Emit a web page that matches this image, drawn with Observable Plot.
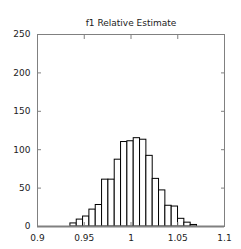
<!DOCTYPE html>
<html>
<head>
<meta charset="utf-8">
<script src="https://cdn.jsdelivr.net/npm/d3@7"></script>
<script src="https://cdn.jsdelivr.net/npm/@observablehq/plot@0.6"></script>
<style>
  html, body { margin: 0; padding: 0; background: #fff; }
  svg { display: block; }
</style>
</head>
<body>
<div id="chart"></div>
<script>
const title = "f1 Relative Estimate";
const binStart = 0.9352;
const binWidth = 0.00677;
const counts = [4, 9, 13, 22, 28, 61, 61, 87, 110, 111, 115, 113, 92, 62, 47, 27, 26, 10, 5, 2];
const xTicks = [0.9, 0.95, 1, 1.05, 1.1];
const xTickLabels = ["0.9", "0.95", "1", "1.05", "1.1"];
const yTicks = [0, 50, 100, 150, 200, 250];

const bins = counts.map((c, i) => ({
  x1: binStart + i * binWidth,
  x2: binStart + (i + 1) * binWidth,
  count: c
}));

const chart = Plot.plot({
  width: 241,
  height: 249,
  marginLeft: 37,
  marginRight: 17,
  marginTop: 34,
  marginBottom: 23,
  style: {fontFamily: "DejaVu Sans", fontSize: "9px", color: "#222", background: "white"},
  x: {domain: [0.9, 1.1], axis: null},
  y: {domain: [0, 250], axis: null},
  marks: [
    Plot.rectY(bins, {x1: "x1", x2: "x2", y: "count", fill: "white", stroke: "black", strokeWidth: 1}),
    Plot.frame({stroke: "#808080"}),
    Plot.ruleY([0], {stroke: "#808080", strokeWidth: 2}),
    Plot.axisY({ticks: yTicks, anchor: "left", tickSize: -4, fill: "none", stroke: "#808080", label: null}),
    Plot.axisY({ticks: yTicks, anchor: "right", tickSize: -4, fill: "none", stroke: "#808080", label: null}),
    Plot.axisX({ticks: xTicks, anchor: "bottom", tickSize: -4, fill: "none", stroke: "#808080", label: null}),
    Plot.axisX({ticks: xTicks, anchor: "top", tickSize: -4, fill: "none", stroke: "#808080", label: null}),
    Plot.axisY({ticks: yTicks, anchor: "left", tickSize: 0, tickPadding: 7, fill: "#222", label: null}),
    Plot.axisX({ticks: xTicks, anchor: "bottom", tickSize: 0, tickPadding: 8, fill: "#222", label: null,
      tickFormat: (d) => xTickLabels[xTicks.indexOf(d)]}),
    Plot.text([title], {frameAnchor: "top", dy: -15, fill: "#222", fontSize: 9})
  ]
});
document.getElementById("chart").append(chart);
</script>
</body>
</html>
